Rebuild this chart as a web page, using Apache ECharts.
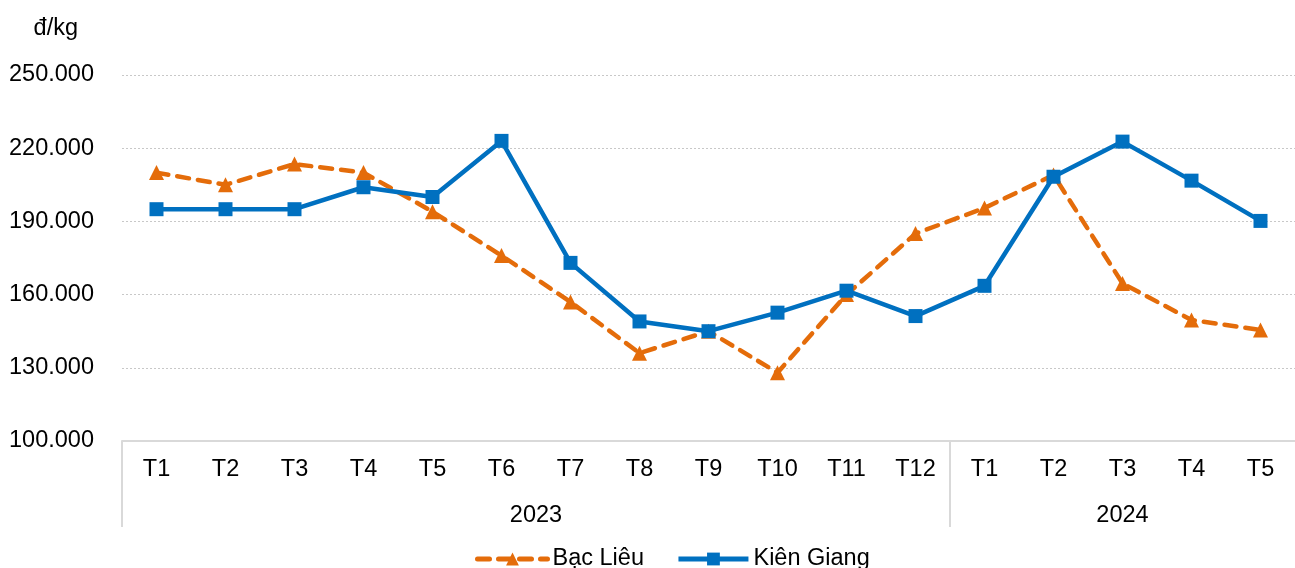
<!DOCTYPE html>
<html>
<head>
<meta charset="utf-8">
<script src="https://cdn.jsdelivr.net/npm/echarts@6/dist/echarts.min.js"></script>
<style>html,body{margin:0;padding:0;background:#fff}#c{width:1295px;height:568px}</style>
</head>
<body>
<div id="c"></div>
<script>
const months = ['T1','T2','T3','T4','T5','T6','T7','T8','T9','T10','T11','T12','T1','T2','T3','T4','T5'];
const years = ['2023','2024'];
const yearSpans = [12, 5]; // number of months in each year group
const bacLieu = [210000,205000,213500,210000,194000,176000,157000,136000,145000,128000,160000,185000,195500,209000,164600,149600,145500];
const kienGiang = [195000,195000,195000,204000,200000,223000,173000,149000,145000,152600,161600,151200,163600,208300,222700,206700,190200];
const yTicks = {min:100000, max:250000, interval:30000};

// half-month slots for the year-group axis
const nHalf = months.length * 2 + 1;
const halfSlots = [];
const labelIdx = {}; const sepIdx = new Set([0]);
let acc = 0;
yearSpans.forEach((s, i) => { labelIdx[acc + s] = years[i]; acc += s * 2; if (acc < nHalf - 1) sepIdx.add(acc); });
for (let k = 0; k < nHalf; k++) halfSlots.push(labelIdx[k] || '');

const font = 'Liberation Sans, Arial, sans-serif';
const fs = 23.5;
const chart = echarts.init(document.getElementById('c'));
chart.setOption({
  animation:false,
  textStyle:{fontFamily:font},
  grid:{left:122,right:0,top:75,bottom:127},
  legend:{
    top:542, left:470, itemWidth:70, itemHeight:16, itemGap:32,
    textStyle:{fontSize:fs,color:'#000',fontFamily:font},
    lineStyle:{width:5},
    data:['Bạc Liêu','Kiên Giang']
  },
  xAxis:[{
    type:'category', data:months, boundaryGap:true,
    axisLine:{lineStyle:{color:'#d9d9d9',width:2}},
    axisTick:{show:false},
    axisLabel:{color:'#000',fontSize:fs,margin:17,interval:0,fontFamily:font}
  },{
    type:'category', data:halfSlots, boundaryGap:false, position:'bottom',
    axisLine:{show:false},
    axisTick:{show:true,length:86,inside:false,interval:(i)=>sepIdx.has(i),lineStyle:{color:'#d9d9d9',width:2}},
    axisLabel:{color:'#000',fontSize:fs,margin:63,interval:(i,v)=>v!=='',fontFamily:font}
  }],
  yAxis:{
    type:'value', min:yTicks.min, max:yTicks.max, interval:yTicks.interval,
    name:'đ/kg', nameLocation:'end', nameGap:34,
    nameTextStyle:{color:'#000',fontSize:fs,align:'right',padding:[0,44,0,0],fontFamily:font},
    axisLine:{show:false}, axisTick:{show:false},
    axisLabel:{color:'#000',fontSize:fs,margin:28,fontFamily:font,padding:[3,0,0,0],
      formatter:v=>String(v).replace(/\B(?=(\d{3})+(?!\d))/g,'.')},
    splitLine:{lineStyle:{color:'#c8c8c8',type:[2,2],width:1}}
  },
  series:[{
    name:'Bạc Liêu', type:'line', data:bacLieu, xAxisIndex:0,
    symbol:'triangle', symbolSize:15,
    lineStyle:{color:'#E46C0A',width:4.5,type:[12,9],cap:'round'},
    itemStyle:{color:'#E46C0A'}, z:2
  },{
    name:'Kiên Giang', type:'line', data:kienGiang, xAxisIndex:0,
    symbol:'rect', symbolSize:14,
    lineStyle:{color:'#0070C0',width:4.5},
    itemStyle:{color:'#0070C0'}, z:3
  }]
});
</script>
</body>
</html>
